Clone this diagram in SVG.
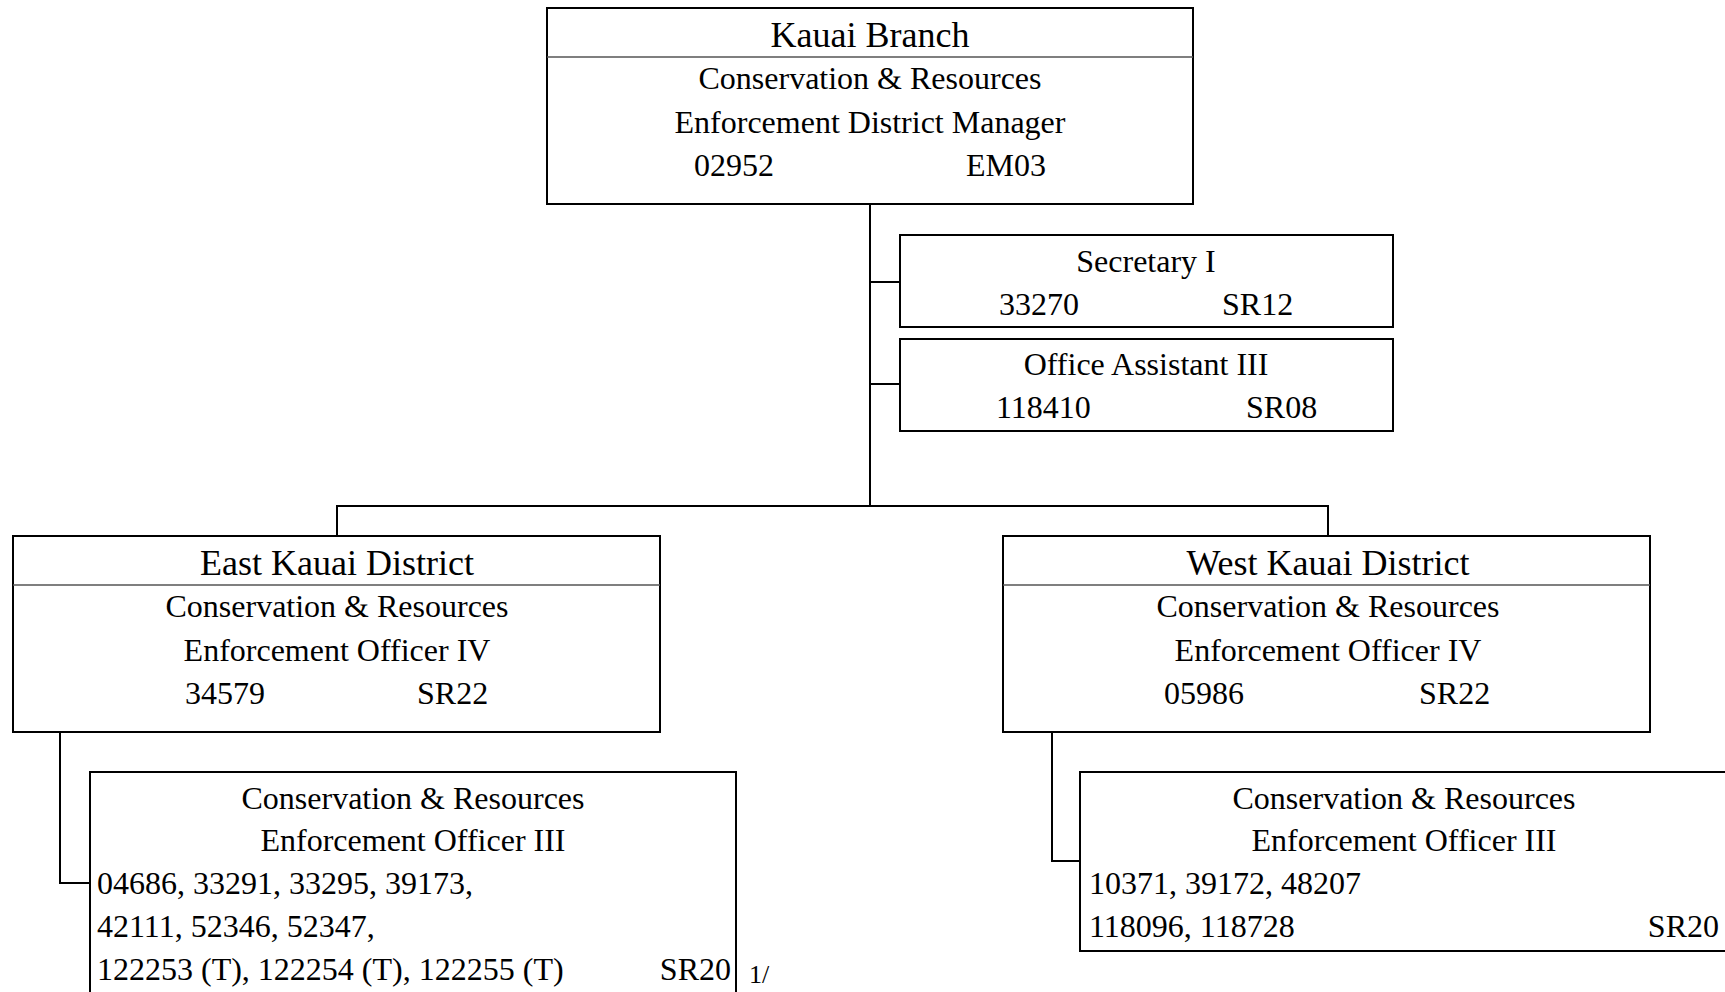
<svg xmlns="http://www.w3.org/2000/svg" width="1725" height="992" viewBox="0 0 1725 992">
<style>
.box{fill:#fff;stroke:#000;stroke-width:2}
.div{stroke:#555;stroke-width:1.5}
.con{fill:none;stroke:#000;stroke-width:2}
text{font-family:"Liberation Serif","Times New Roman",serif;font-size:32px;fill:#000}
.t{font-size:36px}
.c{text-anchor:middle}
.e{text-anchor:end}
</style>
<rect width="1725" height="992" fill="#fff"/>
<g id="connectors">
<path class="con" d="M870,204 V506"/>
<path class="con" d="M870,282 H900"/>
<path class="con" d="M870,384 H900"/>
<path class="con" d="M337,536 V506 H1328 V536"/>
<path class="con" d="M60,732 V883 H90"/>
<path class="con" d="M1052,732 V861 H1080"/>
</g>
<g id="kauai-branch">
<rect class="box" x="547" y="8" width="646" height="196"/>
<line class="div" x1="547" y1="57" x2="1193" y2="57"/>
<text class="t c" x="870" y="47">Kauai Branch</text>
<text class="c" x="870" y="89">Conservation &amp; Resources</text>
<text class="c" x="870" y="133">Enforcement District Manager</text>
<text x="694" y="176">02952</text>
<text x="966" y="176">EM03</text>
</g>
<g id="secretary">
<rect class="box" x="900" y="235" width="493" height="92"/>
<text class="c" x="1146" y="272">Secretary I</text>
<text x="999" y="315">33270</text>
<text x="1222" y="315">SR12</text>
</g>
<g id="office-assistant">
<rect class="box" x="900" y="339" width="493" height="92"/>
<text class="c" x="1146" y="375">Office Assistant III</text>
<text x="996" y="418">118410</text>
<text x="1246" y="418">SR08</text>
</g>
<g id="east-district">
<rect class="box" x="13" y="536" width="647" height="196"/>
<line class="div" x1="13" y1="585" x2="660" y2="585"/>
<text class="t c" x="337" y="575">East Kauai District</text>
<text class="c" x="337" y="617">Conservation &amp; Resources</text>
<text class="c" x="337" y="661">Enforcement Officer IV</text>
<text x="185" y="704">34579</text>
<text x="417" y="704">SR22</text>
</g>
<g id="west-district">
<rect class="box" x="1003" y="536" width="647" height="196"/>
<line class="div" x1="1003" y1="585" x2="1650" y2="585"/>
<text class="t c" x="1328" y="575">West Kauai District</text>
<text class="c" x="1328" y="617">Conservation &amp; Resources</text>
<text class="c" x="1328" y="661">Enforcement Officer IV</text>
<text x="1164" y="704">05986</text>
<text x="1419" y="704">SR22</text>
</g>
<g id="east-officers">
<rect class="box" x="90" y="772" width="646" height="240"/>
<text class="c" x="413" y="809">Conservation &amp; Resources</text>
<text class="c" x="413" y="851">Enforcement Officer III</text>
<text x="97" y="894">04686, 33291, 33295, 39173,</text>
<text x="97" y="937">42111, 52346, 52347,</text>
<text x="97" y="980">122253 (T), 122254 (T), 122255 (T)</text>
<text class="e" x="731" y="980">SR20</text>
<text x="749" y="983" style="font-size:26px">1/</text>
</g>
<g id="west-officers">
<rect class="box" x="1080" y="772" width="660" height="179"/>
<text class="c" x="1404" y="809">Conservation &amp; Resources</text>
<text class="c" x="1404" y="851">Enforcement Officer III</text>
<text x="1089" y="894">10371, 39172, 48207</text>
<text x="1089" y="937">118096, 118728</text>
<text class="e" x="1719" y="937">SR20</text>
</g>
</svg>
